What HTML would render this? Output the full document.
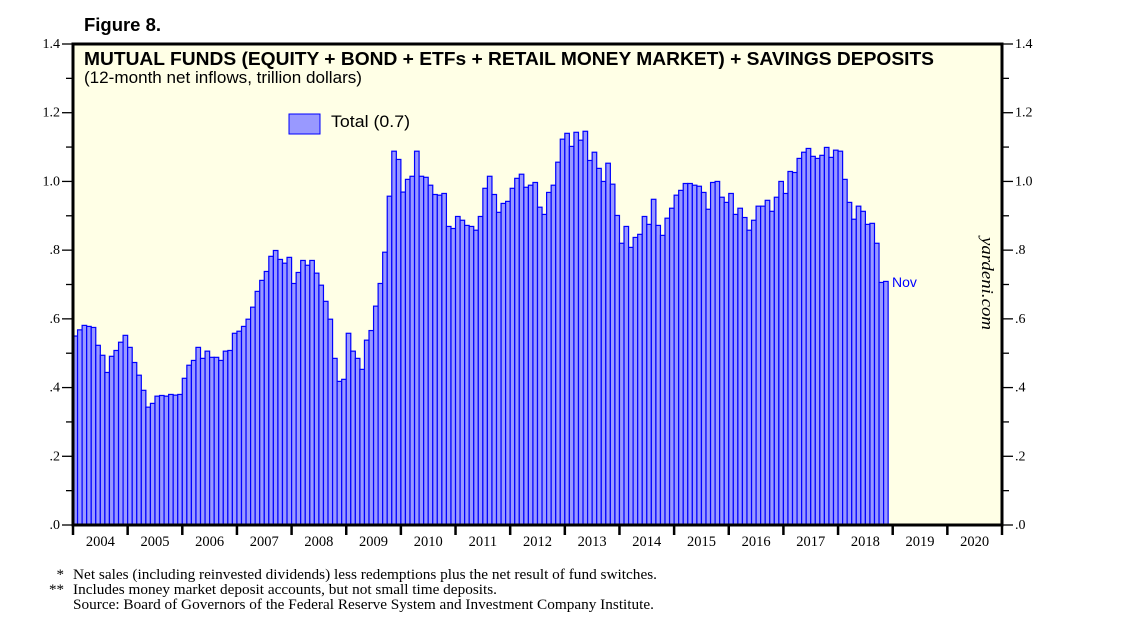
<!DOCTYPE html>
<html><head><meta charset="utf-8"><style>
body{margin:0;background:#fff;}
svg{display:block;}
</style></head><body>
<svg id="chart" width="1138" height="628" xmlns="http://www.w3.org/2000/svg" font-family="Liberation Sans, sans-serif">
<text x="84" y="31" font-size="18" font-weight="bold" textLength="77" lengthAdjust="spacingAndGlyphs">Figure 8.</text>
<rect x="73" y="44" width="929" height="481" fill="#ffffe6"/>
<g id="bars"></g>
<g id="axes"></g>
<rect x="73" y="44" width="929" height="481" fill="none" stroke="#000" stroke-width="3"/>
<text x="84" y="65" font-size="18.5" font-weight="bold" textLength="850" lengthAdjust="spacingAndGlyphs">MUTUAL FUNDS (EQUITY + BOND + ETFs + RETAIL MONEY MARKET) + SAVINGS DEPOSITS</text>
<text x="84" y="83" font-size="16.5" textLength="278" lengthAdjust="spacingAndGlyphs">(12-month net inflows, trillion dollars)</text>
<rect x="289" y="114" width="31" height="20" fill="#9999ff" stroke="#0000ff" stroke-width="1"/>
<text x="331" y="127" font-size="16.5" textLength="79" lengthAdjust="spacingAndGlyphs">Total (0.7)</text>
<text x="892" y="287" font-size="14" fill="#0000ff">Nov</text>
<text transform="translate(982,237) rotate(90)" font-family="Liberation Serif, serif" font-style="italic" font-size="17" textLength="93" lengthAdjust="spacingAndGlyphs">yardeni.com</text>
<g font-family="Liberation Serif, serif" font-size="15">
<text x="64" y="579" text-anchor="end">*</text>
<text x="73" y="579" textLength="584" lengthAdjust="spacingAndGlyphs">Net sales (including reinvested dividends) less redemptions plus the net result of fund switches.</text>
<text x="64" y="594" text-anchor="end">**</text>
<text x="73" y="594" textLength="424" lengthAdjust="spacingAndGlyphs">Includes money market deposit accounts, but not small time deposits.</text>
<text x="73" y="609" textLength="581" lengthAdjust="spacingAndGlyphs">Source: Board of Governors of the Federal Reserve System and Investment Company Institute.</text>
</g>
</svg>
<script>
const years = ["2004","2005","2006","2007","2008","2009","2010","2011","2012","2013","2014","2015","2016","2017","2018","2019","2020"];
const yTicks = [0,0.2,0.4,0.6,0.8,1.0,1.2,1.4];
const yTickLabels = [".0",".2",".4",".6",".8","1.0","1.2","1.4"];
const totals = [
.550,.568,.581,.578,.575,.523,.494,.444,.491,.508,.532,.552,
.517,.473,.436,.392,.343,.354,.375,.377,.375,.380,.378,.380,
.427,.465,.479,.517,.485,.506,.488,.488,.479,.506,.508,.558,
.564,.578,.599,.634,.680,.712,.738,.782,.799,.773,.762,.779,
.703,.735,.770,.756,.770,.733,.698,.651,.599,.485,.418,.424,
.558,.506,.485,.453,.538,.566,.637,.703,.794,.957,1.088,1.064,
.969,1.006,1.015,1.088,1.015,1.012,.989,.962,.960,.965,.869,.863,
.898,.887,.872,.869,.858,.898,.980,1.015,.962,.910,.936,.942,
.980,1.009,1.021,.983,.989,.997,.925,.904,.968,.989,1.056,1.123,
1.140,1.102,1.143,1.120,1.146,1.061,1.085,1.038,1.000,1.053,.992,.901,
.820,.869,.808,.837,.846,.898,.875,.948,.872,.843,.893,.922,
.960,.974,.994,.994,.989,.986,.968,.919,.997,1.000,.954,.939,
.965,.904,.922,.895,.858,.887,.928,.928,.945,.913,.954,1.000,
.965,1.029,1.026,1.067,1.085,1.096,1.073,1.067,1.076,1.099,1.070,1.091,
1.088,1.006,.939,.890,.928,.913,.875,.878,.820,.706,.709
];
const NS='http://www.w3.org/2000/svg';
const X0=73,X1=1002,Y0=525,Y1=44,YMAX=1.4;
const months=years.length*12;
const bw=(X1-X0)/months;
const xs=i=>X0+i*bw;
const ys=v=>Y0-(v/YMAX)*(Y0-Y1);
function mk(tag,attrs,parent){const e=document.createElementNS(NS,tag);for(const k in attrs)e.setAttribute(k,attrs[k]);parent.appendChild(e);return e;}
const bars=document.getElementById('bars');
totals.forEach((v,i)=>{
  const r=mk('rect',{x:xs(i),y:ys(v),width:bw,height:Y0-ys(v),fill:'#9999ff',stroke:'#0000ff','stroke-width':1.2},bars);
  
  
});
const ax=document.getElementById('axes');
for(let k=0;k<=14;k++){
  const v=k*0.1,y=ys(v),major=k%2===0;
  const l1=mk('line',{x1:major?62:66,x2:73,y1:y,y2:y,stroke:'#000','stroke-width':1.3},ax);
  
  
  const l2=mk('line',{x1:1002,x2:major?1013:1009,y1:y,y2:y,stroke:'#000','stroke-width':1.3},ax);
  
  
}
yTicks.forEach((v,i)=>{
  const t=mk('text',{x:60,y:ys(v)+4,'text-anchor':'end','font-family':'Liberation Serif, serif','font-size':14},ax);
  t.textContent=yTickLabels[i];
  
  
  const t2=mk('text',{x:1015,y:ys(v)+4,'font-family':'Liberation Serif, serif','font-size':14},ax);
  t2.textContent=yTickLabels[i];
  
  
});
years.forEach((yr,i)=>{
  const x=xs(i*12);
  const l=mk('line',{x1:x,x2:x,y1:525,y2:535,stroke:'#000','stroke-width':2.5},ax);
  
  
  const t=mk('text',{x:x+bw*6,y:546,'text-anchor':'middle','font-family':'Liberation Serif, serif','font-size':14.5},ax);
  t.textContent=yr;
  
  
});
const le=mk('line',{x1:X1,x2:X1,y1:525,y2:535,stroke:'#000','stroke-width':2.5},ax);


</script>
</body></html>
